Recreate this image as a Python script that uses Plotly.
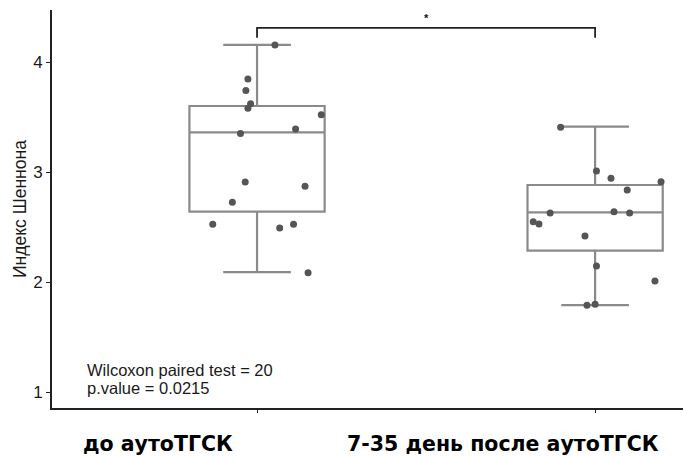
import plotly.graph_objects as go

# ---- data ----
groups = ["до аутоТГСК", "7-35 день после аутоТГСК"]
group_pos = [1, 2]

# box statistics
q1 = [2.64, 2.285]
median = [3.36, 2.633]
q3 = [3.60, 2.882]
lowerfence = [2.09, 1.79]
upperfence = [4.155, 3.412]

# individual points (jittered)
vals_before = [4.155, 3.845, 3.74, 3.62, 3.58, 3.52, 3.35, 3.39, 2.91, 2.87, 2.725, 2.525, 2.49, 2.525, 2.085]
jit_before = [0.053, -0.027, -0.033, -0.019, -0.027, 0.190, -0.049, 0.114, -0.035, 0.142, -0.073, -0.131, 0.067, 0.108, 0.151]
vals_after = [3.406, 3.009, 2.943, 2.912, 2.836, 2.627, 2.639, 2.627, 2.548, 2.527, 2.418, 2.145, 2.009, 1.788, 1.797]
jit_after = [-0.102, 0.004, 0.047, 0.195, 0.095, -0.133, 0.056, 0.102, -0.183, -0.166, -0.030, 0.004, 0.177, -0.024, 0.000]

y_ticks = [1, 2, 3, 4]
bracket_top = 4.31
bracket_tip = 4.22
stat_lines = ["Wilcoxon paired test = 20", "p.value = 0.0215"]
y_title = "Индекс Шеннона"

box_color = "#8a8a8a"
pt_color = "#555555"
W, H = 683, 456
ML, MR, MT, MB = 52, 0, 10, 48
PW, PH = W - ML - MR, H - MT - MB

fig = go.Figure()
for i in range(2):
    fig.add_trace(go.Box(
        x=[group_pos[i]], q1=[q1[i]], median=[median[i]], q3=[q3[i]],
        lowerfence=[lowerfence[i]], upperfence=[upperfence[i]],
        width=0.4, whiskerwidth=0.5,
        line=dict(color=box_color, width=2.2),
        fillcolor="rgba(255,255,255,0)",
        boxpoints=False, showlegend=False, hoverinfo="skip",
    ))

fig.add_trace(go.Scatter(
    x=[group_pos[0] + j for j in jit_before], y=vals_before, mode="markers",
    marker=dict(color=pt_color, size=7), showlegend=False))
fig.add_trace(go.Scatter(
    x=[group_pos[1] + j for j in jit_after], y=vals_after, mode="markers",
    marker=dict(color=pt_color, size=7), showlegend=False))

# significance bracket
fig.add_trace(go.Scatter(
    x=[group_pos[0], group_pos[0], group_pos[1], group_pos[1]],
    y=[bracket_tip, bracket_top, bracket_top, bracket_tip],
    mode="lines", line=dict(color="#222222", width=1.8), showlegend=False))

fig.add_annotation(x=1.5, y=4.33, text="<b>*</b>", showarrow=False,
                   font=dict(size=11, color="#111111", family="Liberation Sans"),
                   yanchor="bottom")

stat_font = dict(size=16.5, color="#1a1a1a", family="Liberation Sans")
fig.add_annotation(x=0.491, y=1.20, xref="x", yref="y", text=stat_lines[0],
                   showarrow=False, xanchor="left", yanchor="middle", font=stat_font)
fig.add_annotation(x=0.491, y=1.036, xref="x", yref="y", text=stat_lines[1],
                   showarrow=False, xanchor="left", yanchor="middle", font=stat_font)

# group labels
label_x_px = [157.5, 502.5]
for lab, xp in zip(groups, label_x_px):
    fig.add_annotation(x=(xp - ML) / PW, y=(MT + PH - 444) / PH, xref="paper", yref="paper",
                       text="<b>" + lab + "</b>", showarrow=False,
                       xanchor="center", yanchor="middle",
                       font=dict(size=20.5, color="#000000", family="DejaVu Sans"))

# y-axis title
fig.add_annotation(x=(20 - ML) / PW, y=(MT + PH - 209) / PH, xref="paper", yref="paper",
                   text=y_title, textangle=-90, showarrow=False,
                   xanchor="center", yanchor="middle",
                   font=dict(size=17.5, color="#1a1a1a", family="Liberation Sans"))

fig.update_layout(
    width=W, height=H,
    margin=dict(l=ML, r=MR, t=MT, b=MB, autoexpand=False),
    plot_bgcolor="white", paper_bgcolor="white",
    xaxis=dict(range=[0.3935, 2.26], tickvals=group_pos, ticktext=["", ""],
               showgrid=False, zeroline=False, showline=True, automargin=False,
               linecolor="#222222", linewidth=1.8, ticks="outside",
               ticklen=3, tickcolor="#222222", tickwidth=1.2),
    yaxis=dict(range=[0.8545, 4.4727], tickvals=y_ticks, automargin=False,
               showgrid=False, zeroline=False, showline=True,
               linecolor="#222222", linewidth=1.8, ticks="outside",
               ticklen=4, tickcolor="#222222", tickwidth=1.2,
               tickfont=dict(size=17, color="#1a1a1a", family="Liberation Sans")),
)

fig.write_html("out.html", config={"displayModeBar": False},
               post_script="document.body.style.margin='0px';")
